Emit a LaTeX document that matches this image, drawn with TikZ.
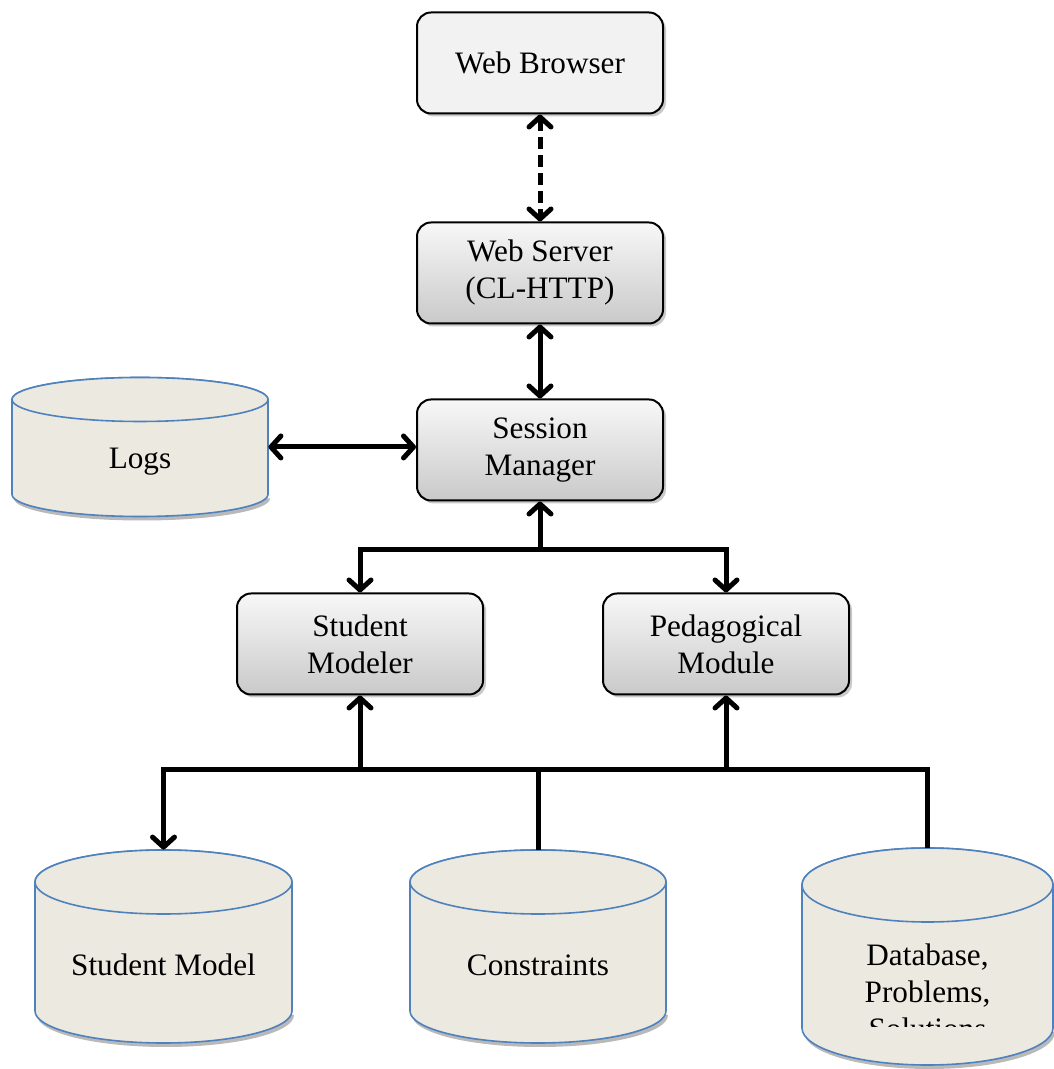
\documentclass[tikz,border=0pt]{standalone}
\usepackage{fontspec}
\setmainfont{Liberation Serif}
\usetikzlibrary{arrows.meta, positioning, calc, shadows}
\definecolor{cdrum}{RGB}{236,234,224}
\definecolor{cedge}{RGB}{79,129,189}
\definecolor{cpale}{RGB}{242,242,242}
\newcommand{\figfont}{\fontsize{15.6}{18.5}\selectfont}
% #1 name, #2 cx, #3 cy, #4 rx, #5 ry, #6 half height
\newcommand{\drum}[6]{%
  \fill[gray!55] (#2-#4+2,#3-#6+#5-4) arc[start angle=180,end angle=360,x radius=#4,y radius=#5] -- cycle;
  \filldraw[drumbody] (#2-#4,#3+#6-#5) -- (#2-#4,#3-#6+#5)
    arc[start angle=180,end angle=360,x radius=#4,y radius=#5]
    -- (#2+#4,#3+#6-#5)
    arc[start angle=0,end angle=180,x radius=#4,y radius=#5] -- cycle;
  \draw[drumbody] (#2,#3+#6-#5) ellipse[x radius=#4,y radius=#5];
  \node[inner sep=0pt, minimum width={#4pt}, minimum height={#6pt}] (#1) at (#2,#3) {};
}

\begin{document}
\begin{tikzpicture}[
  x=0.5pt, y=0.5pt,
  >={Straight Barb[length=5pt,width=11pt,line join=round,line cap=round]},
  box/.style      = {rectangle, rounded corners=7pt, draw=black, line width=1pt,
                     minimum width=123pt, minimum height=50.5pt, align=center,
                     font=\figfont,
                     drop shadow={shadow xshift=1.5pt, shadow yshift=-1.5pt,
                                  fill=gray!70, opacity=.6}},
  shadebox/.style = {box, top color=gray!6, bottom color=gray!42},
  drumbody/.style = {fill=cdrum, draw=cedge, line width=0.8pt},
  drumtext/.style = {font=\figfont, align=center},
  link/.style     = {line width=2.5pt, black},
]
\useasboundingbox (0,0) rectangle (1053,1069);

%% --- server chain ---
\node[box, fill=cpale]                (browser) at (540,1006) {Web Browser};
\node[shadebox, below=53.5pt of browser] (server)  {Web Server\\(CL-HTTP)};
\node[shadebox, below=37pt of server]    (session) {Session\\Manager};

%% --- modules ---
\node[shadebox, below=45.5pt of session, xshift=-90pt] (stumod) {Student\\Modeler};
\node[shadebox, below=45.5pt of session, xshift=93pt]  (pedmod) {Pedagogical\\Module};

%% --- data stores ---
\drum{logs}{140}{622}{128}{22}{69.5}
\node[drumtext] (logstext) at (140,607) {Logs};

\drum{stumodel}{163.5}{122.5}{128.5}{32}{96.5}
\node[drumtext] (stumodeltext) at (163.5,104) {Student Model};

\drum{constr}{538}{122.5}{128}{32}{96.5}
\node[drumtext] (constrtext) at (538,104) {Constraints};

\drum{dbase}{927.5}{112.5}{125.5}{37}{108.5}
\begin{scope}
  \clip (795,42) rectangle (1053,230);
  \node[drumtext] (dbtext) at (927.5,77) {Database,\\Problems,\\Solutions};
\end{scope}

%% --- arrows ---
\draw[link, <->, dash pattern=on 6pt off 3pt] (browser) -- (server);
\draw[link, <->] (server) -- (session);
\draw[link, <->] (logs.east) -- (logs.east -| session.west);

\draw[link, <-] (session.south) -- ++(0,-48) coordinate (split);
\draw[link, ->] (split) -| (stumod.north);
\draw[link, ->] (split) -| (pedmod.north);

\draw[link] (constr.north) -- ++(0,80) coordinate (bus);
\draw[link, ->] (bus) -| (stumodel.north);
\draw[link] (bus) -| (dbase.north);
\draw[link, ->] (stumod.south |- bus) -- (stumod.south);
\draw[link, ->] (pedmod.south |- bus) -- (pedmod.south);

\end{tikzpicture}
\end{document}
